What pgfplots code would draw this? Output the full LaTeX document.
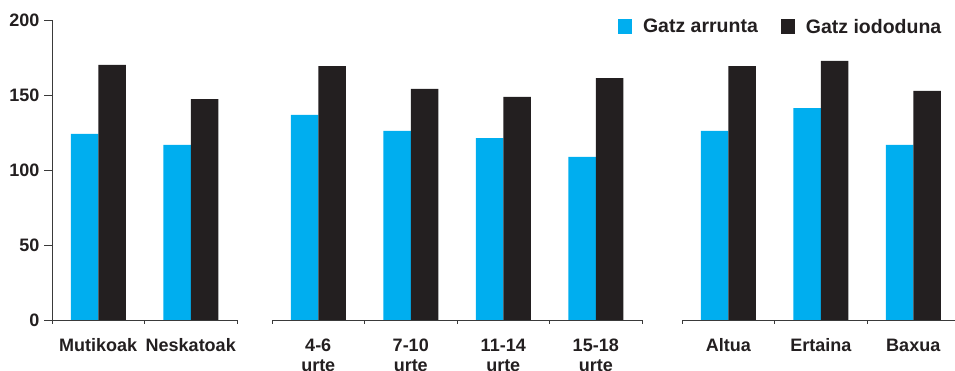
\documentclass[border=0pt]{standalone}
\usepackage{pgfplots}
\pgfplotsset{compat=1.18}
\usepackage{fontspec}
\setmainfont{Liberation Sans}
\definecolor{cyanbar}{HTML}{00AEEF}
\definecolor{darkbar}{HTML}{231F20}
\definecolor{axisgray}{HTML}{3A3A3A}
\pgfplotsset{
  grp/.style={
    x=92.5pt, y=1.5pt,
    ymin=0, ymax=200,
    anchor=south west,
    axis x line*=bottom,
    axis y line=none,
    axis line style={axisgray, line width=0.9pt},
    ybar=0pt, bar width=27.5pt,
    xtick style={axisgray, line width=0.9pt},
    tick align=outside,
    major tick length=4pt,
    xticklabels={},
    /pgf/number format/assume math mode=true,
    clip=false,
  },
  lab/.style={extra x tick style={major tick length=0pt,
      xticklabel style={font=\fontsize{18}{19.5}\selectfont\bfseries, text=darkbar, align=center, anchor=base, yshift=#1}}},
}
\begin{document}
\begin{tikzpicture}
\path[use as bounding box] (0pt,0pt) rectangle (955pt,371pt);
% y axis
\begin{axis}[x=92.5pt, y=1.5pt, xmin=0, xmax=2, ymin=0, ymax=200,
  anchor=south west, at={(52pt,51pt)},
  axis x line=none, axis y line*=left,
  axis line style={axisgray, line width=0.9pt},
  ytick={0,50,100,150,200},
  ytick style={axisgray, line width=0.9pt},
  tick align=outside, major tick length=8pt,
  yticklabel style={font=\fontsize{18}{20}\selectfont\bfseries, text=darkbar, xshift=-1pt},
  /pgf/number format/assume math mode=true,
  ]
\addplot[draw=none, forget plot] coordinates {(0,0) (2,200)};
\end{axis}
% group 1
\begin{axis}[grp, lab=-32pt, at={(52pt,51pt)}, xmin=0, xmax=2,
  xtick={0,1,2},
  extra x ticks={0.5,1.5},
  extra x tick labels={Mutikoak,Neskatoak},
  ]
\addplot[fill=cyanbar, draw=none] coordinates {(0.5,124) (1.5,116.7)};
\addplot[fill=darkbar, draw=none] coordinates {(0.5,170) (1.5,147.3)};
\end{axis}
% group 2
\begin{axis}[grp, lab=-51.5pt, at={(272pt,51pt)}, xmin=0, xmax=4,
  xtick={0,1,2,3,4},
  extra x ticks={0.5,1.5,2.5,3.5},
  extra x tick labels={{4-6\\urte},{7-10\\urte},{11-14\\urte},{15-18\\urte}},
  ]
\addplot[fill=cyanbar, draw=none] coordinates {(0.5,136.7) (1.5,126) (2.5,121.3) (3.5,108.7)};
\addplot[fill=darkbar, draw=none] coordinates {(0.5,169.3) (1.5,154) (2.5,148.7) (3.5,161.3)};
\end{axis}
% group 3
\begin{axis}[grp, lab=-32pt, at={(682pt,51pt)}, xmin=0, xmax=3,
  xtick={0,1,2,3},
  extra x ticks={0.5,1.5,2.5},
  extra x tick labels={Altua,Ertaina,Baxua},
  legend style={at={(-64pt,303pt)}, anchor=north west, draw=none, fill=none,
    inner sep=0pt, outer sep=0pt, legend columns=2,
    font=\fontsize{19.5}{21}\selectfont\bfseries, text=darkbar,
    /tikz/every odd column/.append style={column sep=9pt},
    /tikz/every even column/.append style={column sep=21pt},
    legend cell align=left},
  legend image code/.code={\fill[#1] (0pt,-7.5pt) rectangle (14pt,7.5pt);},
  ]
\addplot[fill=cyanbar, draw=none] coordinates {(0.5,126) (1.5,141.3) (2.5,116.7)};
\addplot[fill=darkbar, draw=none] coordinates {(0.5,169.3) (1.5,172.7) (2.5,152.7)};
\legend{Gatz arrunta,Gatz iododuna}
\end{axis}
\end{tikzpicture}
\end{document}
